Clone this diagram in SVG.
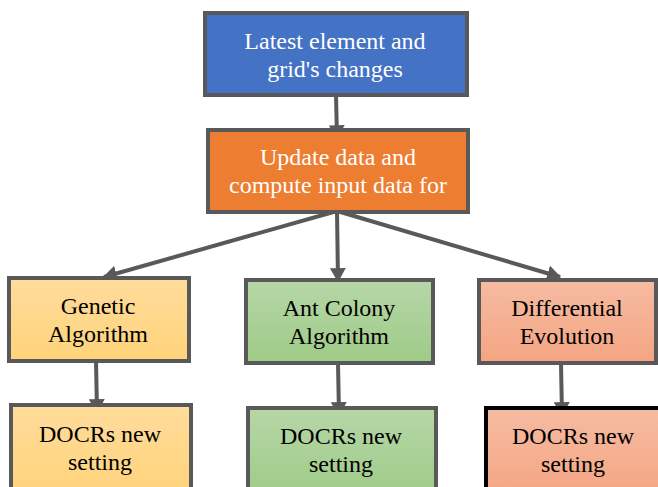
<svg xmlns="http://www.w3.org/2000/svg" width="658" height="487" viewBox="0 0 658 487">
<defs>
<linearGradient id="gy" x1="0" y1="0" x2="0" y2="1"><stop offset="0" stop-color="#FFDC9C"/><stop offset="1" stop-color="#FFD37A"/></linearGradient>
<linearGradient id="gg" x1="0" y1="0" x2="0" y2="1"><stop offset="0" stop-color="#B6D7A8"/><stop offset="1" stop-color="#9ECB86"/></linearGradient>
<linearGradient id="gs" x1="0" y1="0" x2="0" y2="1"><stop offset="0" stop-color="#F6BBA2"/><stop offset="1" stop-color="#F4A582"/></linearGradient>
<marker id="ah" markerWidth="3.5" markerHeight="4" refX="3.2" refY="2" orient="auto" markerUnits="strokeWidth"><path d="M0,0 L3.5,2 L0,4 z" fill="#595959"/></marker>
</defs>
<style>
.box{stroke:#595959;stroke-width:4}
.t{font-family:"Liberation Serif","Times New Roman",serif;font-size:24px;text-anchor:middle;fill:#000}
.w{fill:#fff}
.c{stroke:#595959;stroke-width:4;fill:none;marker-end:url(#ah)}
</style>
<g id="connectors">
<line class="c" x1="336" y1="95" x2="337" y2="138"/>
<line class="c" x1="337" y1="211" x2="104" y2="277"/>
<line class="c" x1="337" y1="211" x2="338" y2="281"/>
<line class="c" x1="337" y1="211" x2="560" y2="277"/>
<line class="c" x1="96" y1="361" x2="97" y2="412"/>
<line class="c" x1="338" y1="363" x2="339" y2="415"/>
<line class="c" x1="561" y1="363" x2="562" y2="415"/>
</g>
<g id="n1"><rect class="box" x="205" y="13" width="262" height="82" fill="#4472C4"/>
<text class="t w" x="335" y="49">Latest element and</text><text class="t w" x="335" y="77">grid's changes</text></g>
<g id="n2"><rect class="box" x="208" y="130" width="260" height="82" fill="#ED7D31"/>
<text class="t w" x="338" y="165">Update data and</text><text class="t w" x="338" y="193">compute input data for</text></g>
<g id="n3"><rect class="box" x="9" y="278" width="180" height="83" fill="url(#gy)"/>
<text class="t" x="98" y="314">Genetic</text><text class="t" x="98" y="342">Algorithm</text></g>
<g id="n4"><rect class="box" x="246" y="280" width="187" height="83" fill="url(#gg)"/>
<text class="t" x="339" y="316">Ant Colony</text><text class="t" x="339" y="344">Algorithm</text></g>
<g id="n5"><rect class="box" x="479" y="280" width="177" height="83" fill="url(#gs)"/>
<text class="t" x="567" y="316">Differential</text><text class="t" x="567" y="344">Evolution</text></g>
<g id="n6"><rect class="box" x="11" y="405" width="180" height="90" fill="url(#gy)"/>
<text class="t" x="100" y="442">DOCRs new</text><text class="t" x="100" y="470">setting</text></g>
<g id="n7"><rect class="box" x="248" y="408" width="188" height="90" fill="url(#gg)"/>
<text class="t" x="341" y="444">DOCRs new</text><text class="t" x="341" y="472">setting</text></g>
<g id="n8"><rect x="486" y="408" width="180" height="90" fill="url(#gs)" stroke="#000" stroke-width="4"/>
<text class="t" x="573" y="444">DOCRs new</text><text class="t" x="573" y="472">setting</text></g>
</svg>
